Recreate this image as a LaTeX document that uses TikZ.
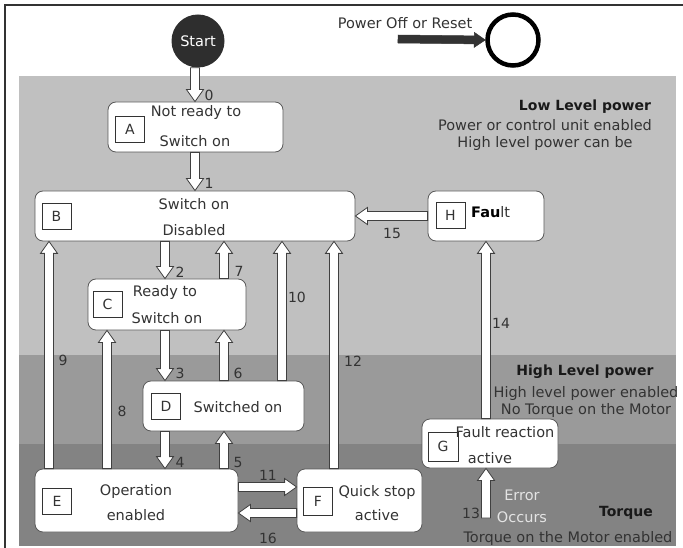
\documentclass[tikz,border=0pt]{standalone}
\usepackage{fontspec}
\setmainfont{DejaVu Sans}
\usetikzlibrary{calc}
\definecolor{bandA}{HTML}{C0C0C0}
\definecolor{bandB}{HTML}{9A9A9A}
\definecolor{bandC}{HTML}{838383}
\definecolor{ink}{HTML}{333333}
\definecolor{edge}{HTML}{5A5A5A}
\definecolor{arrline}{HTML}{404040}
\definecolor{errtxt}{HTML}{E4E4E4}
\definecolor{startc}{HTML}{2E2E2E}
\tikzset{
  shaft/.store in=\bashaft, headw/.store in=\baheadw, headl/.store in=\baheadl,
  shaft=4.5pt, headw=8.5pt, headl=12pt,
  state/.style={draw=edge, fill=white, rounded corners=8pt, line width=0.8pt, inner sep=0pt},
  letterbox/.style={draw=ink, fill=white, line width=0.7pt, minimum width=29pt, minimum height=26pt, inner sep=0pt, text=ink, font=\fontsize{14}{16}\selectfont},
  txt/.style={inner sep=0pt, text=ink, font=\fontsize{14.5}{17}\selectfont},
  num/.style={inner sep=0pt, text=ink, font=\fontsize{14}{16}\selectfont},
  title/.style={inner sep=0pt, text=black!90, font=\fontsize{14}{16}\selectfont\bfseries},
  hollow/.style={draw=arrline, fill=white, line width=0.8pt, line join=miter},
  solidarr/.style={draw=ink, fill=ink, line width=0.5pt},
  frame/.style={draw=ink, line width=1.4pt},
}
\newcommand\blockarrow[3][]{%
  \begin{scope}[#1]
  \path (#2) coordinate (bas) (#3) coordinate (bae);
  \coordinate (bah) at ($(bae)!\baheadl!(bas)$);
  \draw[hollow,#1] ($(bas)!\bashaft!90:(bae)$) -- ($(bah)!\bashaft!90:(bae)$) -- ($(bah)!\baheadw!90:(bae)$) -- (bae) -- ($(bah)!\baheadw!-90:(bae)$) -- ($(bah)!\bashaft!-90:(bae)$) -- ($(bas)!\bashaft!-90:(bae)$) -- cycle;
  \end{scope}}
\begin{document}
\begin{tikzpicture}[x=1pt,y=-1pt]
\useasboundingbox (0,0) rectangle (683,548);
% bands
\fill[bandA] (19,76) rectangle (676,355);
\fill[bandB] (19,355) rectangle (676,444);
\fill[bandC] (19,444) rectangle (676,546);
% frame
\draw[frame] (683,5) -- (5,5) -- (5,548);

% top items
\node[circle, fill=startc, minimum size=53pt, inner sep=0pt, text=white, font=\fontsize{14.5}{17}\selectfont] (S) at (198,41) {Start};
\node[txt] (pwt) at (405,23) {Power Off or Reset};
\node[circle, draw=black, line width=4.5pt, minimum size=51pt, inner sep=0pt] (PO) at (513,40) {};
\coordinate (pwtail) at (398,39);

% states
\node[state, minimum width=175pt, minimum height=50pt] (A) at (195.5,127) {};
\node[state, minimum width=320pt, minimum height=50pt] (B) at (195,216) {};
\node[state, minimum width=116pt, minimum height=50pt] (H) at (486,216) {};
\node[state, minimum width=158pt, minimum height=51pt] (C) at (167,304.5) {};
\node[state, minimum width=161pt, minimum height=50pt] (D) at (223.5,406) {};
\node[state, minimum width=203pt, minimum height=63pt] (E) at (136.5,500.5) {};
\node[state, minimum width=125pt, minimum height=63pt] (F) at (359.5,500.5) {};
\node[state, minimum width=136pt, minimum height=49pt] (G) at (490,443.5) {};

% letter boxes
\node[letterbox] (Al) at (130,129) {A};
\node[letterbox] (Bl) at (56.5,216) {B};
\node[letterbox] (Hl) at (450.5,215.5) {H};
\node[letterbox] (Cl) at (107.5,304.5) {C};
\node[letterbox] (Dl) at (166,406) {D};
\node[letterbox] (El) at (57,501) {E};
\node[letterbox, minimum height=28pt] (Fl) at (318,501) {F};
\node[letterbox, minimum width=30pt, minimum height=29pt] (Gl) at (443,446.5) {G};

% state texts
\node[txt] (tA1) at (196,113) {Not ready to};
\node[txt] (tA2) at (195,141) {Switch on};
\node[txt] (tB1) at (194,204) {Switch on};
\node[txt] (tB2) at (194,230) {Disabled};
\node[txt, anchor=west] (tH) at (471,212) {\textbf{\color{black}Fau}lt};
\node[txt] (tC1) at (165,293) {Ready to};
\node[txt] (tC2) at (167,318) {Switch on};
\node[txt] (tD) at (238,407) {Switched on};
\node[txt] (tE1) at (136,491) {Operation};
\node[txt] (tE2) at (136,515) {enabled};
\node[txt] (tF1) at (377,492) {Quick stop};
\node[txt] (tF2) at (377,515) {active};
\node[txt] (tG1) at (505,432) {Fault reaction};
\node[txt] (tG2) at (490,458) {active};

% columns / rows
\coordinate (c49) at (49,0);
\coordinate (c107) at (107,0);
\coordinate (c165) at (165,0);
\coordinate (c195) at (195,0);
\coordinate (c224) at (224,0);
\coordinate (c282) at (282,0);
\coordinate (c334) at (334,0);
\coordinate (c486) at (486,0);
\coordinate (r216) at (0,216);
\coordinate (r487) at (0,487);
\coordinate (r513) at (0,513);
\coordinate (e13) at (486,518);

% arrows
\blockarrow[solidarr, shaft=4pt, headw=7.5pt, headl=11pt]{pwtail}{PO.west}
\blockarrow{S.south -| c195}{A.north -| c195}
\blockarrow{A.south -| c195}{B.north -| c195}
\blockarrow{B.south -| c165}{C.north -| c165}
\blockarrow{C.north -| c224}{B.south -| c224}
\blockarrow{C.south -| c165}{D.north -| c165}
\blockarrow{D.north -| c224}{C.south -| c224}
\blockarrow{D.south -| c165}{E.north -| c165}
\blockarrow{E.north -| c224}{D.south -| c224}
\blockarrow{E.north -| c49}{B.south -| c49}
\blockarrow{E.north -| c107}{C.south -| c107}
\blockarrow{D.north -| c282}{B.south -| c282}
\blockarrow{F.north -| c334}{B.south -| c334}
\blockarrow{E.east |- r487}{F.west |- r487}
\blockarrow{F.west |- r513}{E.east |- r513}
\blockarrow{H.west |- r216}{B.east |- r216}
\blockarrow{G.north -| c486}{H.south -| c486}
\blockarrow{e13}{G.south -| c486}

% labels
\node[num] (n0) at (209,95) {0};
\node[num] (n1) at (209,183) {1};
\node[num] (n2) at (180,272) {2};
\node[num] (n7) at (239,271) {7};
\node[num] (n3) at (180,373) {3};
\node[num] (n6) at (238,373) {6};
\node[num] (n4) at (180,462) {4};
\node[num] (n5) at (238,462) {5};
\node[num] (n8) at (122,411) {8};
\node[num] (n9) at (63,360) {9};
\node[num] (n10) at (297,297) {10};
\node[num] (n12) at (353,361) {12};
\node[num] (n11) at (268,475) {11};
\node[num] (n16) at (268,538) {16};
\node[num] (n15) at (392,233) {15};
\node[num] (n14) at (501,323) {14};
\node[num] (n13) at (471,513) {13};
\node[txt, text=errtxt] (err1) at (522,495) {Error};
\node[txt, text=errtxt] (err2) at (522,517) {Occurs};

% region texts
\node[title] (lowt) at (585,107) {Low Level power};
\node[txt, align=center] (lowd) at (545,135.5) {Power or control unit enabled\\High level power can be};
\node[title] (hight) at (585,372) {High Level power};
\node[txt, align=center] (highd) at (586,401.5) {High level power enabled\\No Torque on the Motor};
\node[title] (torqt) at (626,513) {Torque};
\node[txt] (torqd) at (568,538) {Torque on the Motor enabled};
\end{tikzpicture}
\end{document}
